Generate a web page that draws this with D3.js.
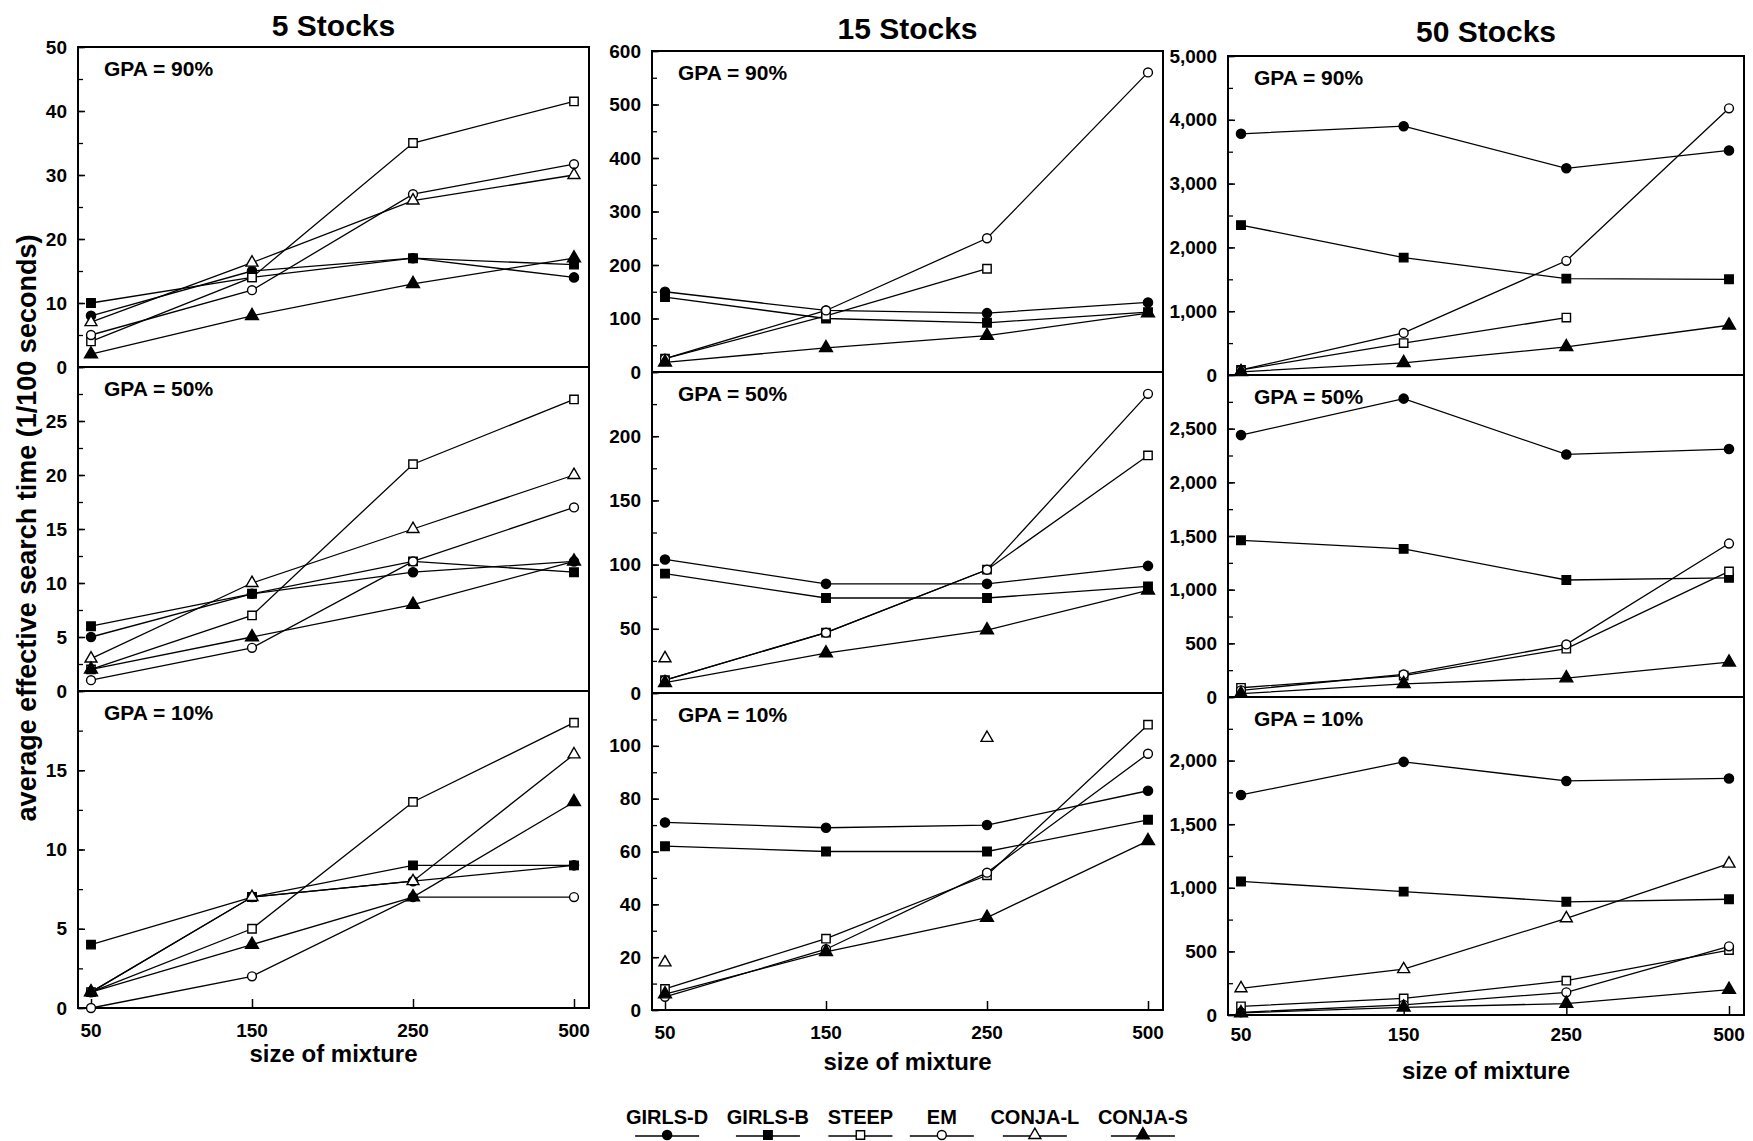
<!DOCTYPE html>
<html>
<head>
<meta charset="utf-8">
<script src="https://cdn.jsdelivr.net/npm/d3@7"></script>
<style>
    body { margin: 0; background: #fff; }
    svg { font-family: "Liberation Sans", Arial, sans-serif; font-weight: bold; }
</style>
</head>
<body>
<div id="chart"></div>
<script>
// categories
const mixtureSizes = ["50", "150", "250", "500"];
const stockCounts = ["5 Stocks", "15 Stocks", "50 Stocks"];
const gpaLabels = ["GPA = 90%", "GPA = 50%", "GPA = 10%"];
const methods = ["GIRLS-D", "GIRLS-B", "STEEP", "EM", "CONJA-L", "CONJA-S"];

// y axis: upper limit, labelled ticks and minor tick step per row (GPA 90 / 50 / 10)
const yMax5 = [50, 30, 20];
const yMax15 = [600, 250, 120];
const yMax50 = [5000, 3000, 2500];
const yTicks5 = [[0, 10, 20, 30, 40, 50], [0, 5, 10, 15, 20, 25], [0, 5, 10, 15]];
const yTicks15 = [[0, 100, 200, 300, 400, 500, 600], [0, 50, 100, 150, 200], [0, 20, 40, 60, 80, 100]];
const yTicks50 = [[0, 1000, 2000, 3000, 4000, 5000], [0, 500, 1000, 1500, 2000, 2500], [0, 500, 1000, 1500, 2000]];
const yMinor5 = [5, 2.5, 2.5];
const yMinor15 = [50, 25, 10];
const yMinor50 = [500, 250, 250];

// search times, one row per method (order of `methods`), null = not shown
const s5gpa90 = [
    [8, 15, 17, 14],
    [10, 14, 17, 16],
    [4, 14, 35, 41.5],
    [5, 12, 27, 31.7],
    [7, 16.3, 26, 30],
    [2, 8, 13, 17]
];
const s5gpa50 = [
    [5, 9, 11, 12],
    [6, 9, 12, 11],
    [2, 7, 21, 27],
    [1, 4, 12, 17],
    [3, 10, 15, 20],
    [2, 5, 8, 12]
];
const s5gpa10 = [
    [1, 7, 8, 9],
    [4, 7, 9, 9],
    [1, 5, 13, 18],
    [0, 2, 7, 7],
    [1, 7, 8, 16],
    [1, 4, 7, 13]
];
const s15gpa90 = [
    [150, 115, 110, 130],
    [140, 100, 92, 112],
    [25, 105, 193, null],
    [25, 115, 250, 560],
    [null, null, null, null],
    [18, 45, 68, 110]
];
const s15gpa50 = [
    [104, 85, 85, 99],
    [93, 74, 74, 83],
    [10, 47, 96, 185],
    [10, 47, 96, 233],
    [27, null, null, null],
    [8, 31, 49, 80]
];
const s15gpa10 = [
    [71, 69, 70, 83],
    [62, 60, 60, 72],
    [8, 27, 51, 108],
    [5, 23, 52, 97],
    [18, null, 103, null],
    [6, 22, 35, 64]
];
const s50gpa90 = [
    [3780, 3900, 3240, 3520],
    [2350, 1840, 1510, 1500],
    [80, 500, 900, null],
    [80, 660, 1790, 4180],
    [null, null, null, null],
    [50, 190, 440, 780]
];
const s50gpa50 = [
    [2440, 2780, 2260, 2310],
    [1460, 1380, 1090, 1110],
    [86, 200, 450, 1170],
    [62, 210, 490, 1430],
    [null, null, null, null],
    [31, 123, 176, 324]
];
const s50gpa10 = [
    [1730, 1990, 1840, 1860],
    [1050, 970, 890, 910],
    [68, 130, 270, 510],
    [21, 80, 178, 540],
    [210, 360, 760, 1190],
    [16, 60, 90, 200]
];

const panelData = [[s5gpa90, s5gpa50, s5gpa10], [s15gpa90, s15gpa50, s15gpa10], [s50gpa90, s50gpa50, s50gpa10]];
const yMaxes = [yMax5, yMax15, yMax50];
const yTicks = [yTicks5, yTicks15, yTicks50];
const yMinors = [yMinor5, yMinor15, yMinor50];

// column frames (pixel layout of the scanned figure)
const layout = [
    {left: 78, right: 589, rows: [47, 367, 691, 1008], titleY: 36, tickY: 1037, xTitleY: 1062, fmt: d3.format("d")},
    {left: 652, right: 1163, rows: [51, 372, 693, 1010], titleY: 39, tickY: 1039, xTitleY: 1070, fmt: d3.format("d")},
    {left: 1228, right: 1744, rows: [56, 375, 697, 1015], titleY: 42, tickY: 1041, xTitleY: 1079, fmt: d3.format(",")}
];

// marker for each method
const markerShape = [d3.symbolCircle, d3.symbolSquare, d3.symbolSquare, d3.symbolCircle, d3.symbolTriangle, d3.symbolTriangle];
const markerSize = [66, 72, 70, 62, 62, 72];
const markerFill = ["#000", "#000", "#fff", "#fff", "#fff", "#000"];

const svg = d3.select("#chart")
    .append("svg")
    .attr("width", 1753)
    .attr("height", 1141);

stockCounts.forEach((title, ci) => {
    const L = layout[ci];
    const x = d3.scalePoint()
        .domain(mixtureSizes)
        .range([L.left + 13, L.right - 15]);

    svg.append("text")
        .attr("x", (L.left + L.right) / 2)
        .attr("y", L.titleY)
        .attr("text-anchor", "middle")
        .attr("font-size", 30)
        .text(title);

    gpaLabels.forEach((gpa, ri) => {
        const top = L.rows[ri], bottom = L.rows[ri + 1];
        const y = d3.scaleLinear()
            .domain([0, yMaxes[ci][ri]])
            .range([bottom, top]);
        const g = svg.append("g");

        // minor ticks
        g.append("g")
            .attr("transform", "translate(" + L.left + ",0)")
            .call(d3.axisLeft(y)
                .tickValues(d3.range(0, yMaxes[ci][ri] + 1e-6, yMinors[ci][ri]))
                .tickSize(-5)
                .tickFormat(""))
            .call(a => a.select(".domain").remove())
            .selectAll("line").attr("stroke-width", 1.3);

        // labelled ticks
        g.append("g")
            .attr("transform", "translate(" + L.left + ",0)")
            .call(d3.axisLeft(y)
                .tickValues(yTicks[ci][ri])
                .tickSize(-7)
                .tickPadding(11)
                .tickFormat(L.fmt))
            .call(a => a.select(".domain").remove())
            .call(a => a.selectAll("text")
                .attr("font-size", 19)
                .attr("font-family", "'Liberation Sans', Arial, sans-serif")
                .attr("font-weight", "bold")
                .attr("fill", "#000"))
            .selectAll("line").attr("stroke-width", 1.5);

        if (ri === 2) {
            const xa = g.append("g")
                .attr("transform", "translate(0," + bottom + ")")
                .call(d3.axisBottom(x).tickSize(-9).tickPadding(0).tickFormat(""));
            xa.select(".domain").remove();
            xa.selectAll("line").attr("stroke-width", 1.5);

            g.selectAll("text.xlab")
                .data(mixtureSizes)
                .enter()
                .append("text")
                .attr("class", "xlab")
                .attr("x", d => x(d))
                .attr("y", L.tickY)
                .attr("text-anchor", "middle")
                .attr("font-size", 19)
                .text(d => d);
        }

        // frame
        g.append("rect")
            .attr("x", L.left)
            .attr("y", top)
            .attr("width", L.right - L.left)
            .attr("height", bottom - top)
            .attr("fill", "none")
            .attr("stroke", "#000")
            .attr("stroke-width", 2);

        g.append("text")
            .attr("x", L.left + 26)
            .attr("y", top + 29)
            .attr("font-size", 21)
            .text(gpa);

        const series = panelData[ci][ri].map((vals, mi) => ({
            mi: mi,
            pts: vals.map((v, j) => ({k: mixtureSizes[j], v: v}))
        }));

        const line = d3.line()
            .defined(d => d.v !== null)
            .x(d => x(d.k))
            .y(d => y(d.v));

        g.selectAll("path.series")
            .data(series)
            .enter()
            .append("path")
            .attr("class", "series")
            .attr("d", d => line(d.pts))
            .attr("fill", "none")
            .attr("stroke", "#000")
            .attr("stroke-width", 1.3);

        series.forEach(s => {
            g.selectAll(null)
                .data(s.pts.filter(p => p.v !== null))
                .enter()
                .append("path")
                .attr("transform", p => "translate(" + x(p.k) + "," + y(p.v) + ")")
                .attr("d", d3.symbol().type(markerShape[s.mi]).size(markerSize[s.mi]))
                .attr("fill", markerFill[s.mi])
                .attr("stroke", "#000")
                .attr("stroke-width", 1.4);
        });
    });

    svg.append("text")
        .attr("x", (L.left + L.right) / 2)
        .attr("y", L.xTitleY)
        .attr("text-anchor", "middle")
        .attr("font-size", 24)
        .text("size of mixture");
});

// y axis title
svg.append("text")
    .attr("transform", "translate(36,528) rotate(-90)")
    .attr("text-anchor", "middle")
    .attr("font-size", 27)
    .text("average effective search time (1/100 seconds)");

// legend
const legend = svg.append("g");
let lx = 626;
methods.forEach((m, i) => {
    const t = legend.append("text")
        .attr("y", 1124)
        .attr("text-anchor", "middle")
        .attr("font-size", 20)
        .text(m);
    const w = Math.max(t.node().getComputedTextLength(), 60);
    const cx = lx + w / 2;
    t.attr("x", cx);
    legend.append("line")
        .attr("x1", cx - 32)
        .attr("x2", cx + 32)
        .attr("y1", 1136)
        .attr("y2", 1136)
        .attr("stroke", "#000")
        .attr("stroke-width", 1.3);
    legend.append("path")
        .attr("transform", "translate(" + cx + ",1135)")
        .attr("d", d3.symbol().type(markerShape[i]).size(markerSize[i]))
        .attr("fill", markerFill[i])
        .attr("stroke", "#000")
        .attr("stroke-width", 1.4);
    lx += w + 18.6;
});
</script>
</body>
</html>
